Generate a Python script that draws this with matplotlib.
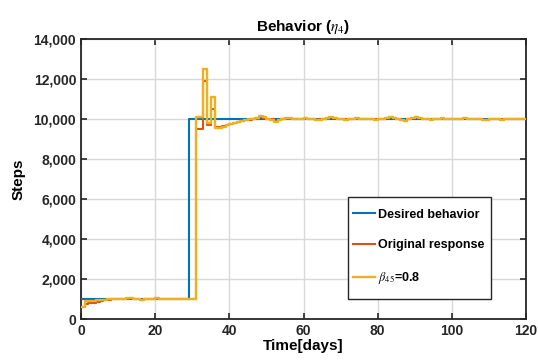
import matplotlib
matplotlib.use("Agg")
import matplotlib.pyplot as plt
from matplotlib.ticker import FuncFormatter
from matplotlib.patches import Rectangle

days = list(range(0, 121))

desired = [1000] * 29 + [10000] * (121 - 29)

original_head = [600, 750, 780, 820, 860, 900, 930, 960, 980, 1000,
                 1000, 990, 1020, 1040, 1000, 980, 950, 990, 1010, 1000,
                 1020, 1010, 1000, 1000, 1010, 1000, 990, 1000, 1000, 1000,
                 1000,
                 9500, 9500, 11900, 9700, 10500, 9600, 9600, 9650, 9700, 9750,
                 9800, 9850, 9900, 9950, 9970, 10000, 10020, 10100, 10050, 10000,
                 10000, 9900, 9950, 10000, 10020, 10000, 10000, 9990, 10000, 10050,
                 10000, 9980, 9950, 10000, 10000, 10020, 10080, 10050, 10000, 10000,
                 9980, 10000, 10000, 10020, 9990, 10000, 10010, 10000, 9980, 10000,
                 10000, 10050, 10080, 10050, 10000, 9950, 9920, 10000, 10050, 10080,
                 10050, 10000, 10000, 9980, 10000, 10000, 10020, 10000, 10000, 9990,
                 10000, 10000, 10030, 10000, 9990, 10000, 10000, 9950, 9950, 10000,
                 10000, 10000, 9980, 10000, 10000, 10000, 10000, 10000, 10000, 10000]

beta_head = [600, 900, 900, 920, 940, 960, 970, 980, 990, 1000,
             1000, 990, 1030, 1050, 1000, 980, 950, 1000, 1010, 1000,
             1030, 1010, 1000, 1000, 1010, 1000, 990, 1000, 1000, 1000,
             1000,
             10100, 10100, 12500, 9800, 11100, 9550, 9550, 9600, 9700, 9750,
             9800, 9850, 9900, 9950, 9980, 10000, 10050, 10150, 10100, 10000,
             9950, 9870, 9950, 10000, 10050, 10030, 10000, 9980, 10000, 10060,
             10020, 9980, 9930, 9950, 10000, 10050, 10110, 10060, 10000, 9990,
             9970, 10000, 10010, 10030, 9980, 10000, 10020, 10000, 9970, 10000,
             10020, 10060, 10110, 10070, 10000, 9940, 9900, 9980, 10060, 10110,
             10060, 10000, 10010, 9970, 10000, 10020, 10040, 10000, 9990, 9980,
             10000, 10010, 10040, 10000, 9980, 9990, 10000, 9930, 9940, 10000,
             10010, 10000, 9970, 10000, 10000, 10010, 10000, 9990, 10000, 10000]

xticks = [0, 20, 40, 60, 80, 100, 120]
yticks = [0, 2000, 4000, 6000, 8000, 10000, 12000, 14000]

labels = ["Desired behavior", "Original response", r"$\beta_{45}$=0.8"]
colors = ["#0072BD", "#D95319", "#EDB120"]

plt.rcParams['font.family'] = ['Liberation Sans', 'DejaVu Sans']
plt.rcParams['mathtext.fontset'] = 'stix'

fig = plt.figure(figsize=(5.38, 3.63), dpi=100)
ax = fig.add_axes([0.1506, 0.1212, 0.8271, 0.7714])

ax.plot(days, desired, drawstyle='steps-post', color=colors[0], lw=1.5, label=labels[0], zorder=3)
ax.plot(days, original_head, drawstyle='steps-post', color=colors[1], lw=1.5, label=labels[1], zorder=4)
ax.plot(days, beta_head, drawstyle='steps-post', color=colors[2], lw=1.7, label=labels[2], zorder=5)

ax.set_xlim(0, 120)
ax.set_ylim(0, 14000)
ax.set_xticks(xticks)
ax.set_yticks(yticks)
ax.yaxis.set_major_formatter(FuncFormatter(lambda v, p: f"{int(v):,}"))
ax.grid(True, color='#d9d9d9', lw=1.0)
ax.set_axisbelow(True)

ax.tick_params(direction='in', top=True, right=True, length=4, width=1.2,
               labelsize=10, colors='#262626')
for lab in ax.get_xticklabels() + ax.get_yticklabels():
    lab.set_fontweight('bold')
for s in ax.spines.values():
    s.set_linewidth(1.3)
    s.set_color('#262626')

ax.set_title(r"Behavior ($\eta_4$)", fontsize=11, fontweight='bold', pad=6)
ax.set_xlabel("Time[days]", fontsize=11, fontweight='bold', labelpad=1)
ax.set_ylabel("Steps", fontsize=11, fontweight='bold', labelpad=6)

# legend frame (axes coords)
frame = Rectangle((0.600, 0.0714), 0.321, 0.3646, transform=ax.transAxes,
                  facecolor='white', edgecolor='#262626', lw=1.0, zorder=10)
ax.add_patch(frame)

leg = ax.legend(loc='upper left', bbox_to_anchor=(0.611, 0.394),
                frameon=False, prop={'weight': 'bold', 'size': 9},
                handlelength=1.75, handletextpad=0.25, labelspacing=1.5,
                borderpad=0.0, borderaxespad=0)
leg.set_zorder(11)

fig.savefig("out.png", dpi=100)
